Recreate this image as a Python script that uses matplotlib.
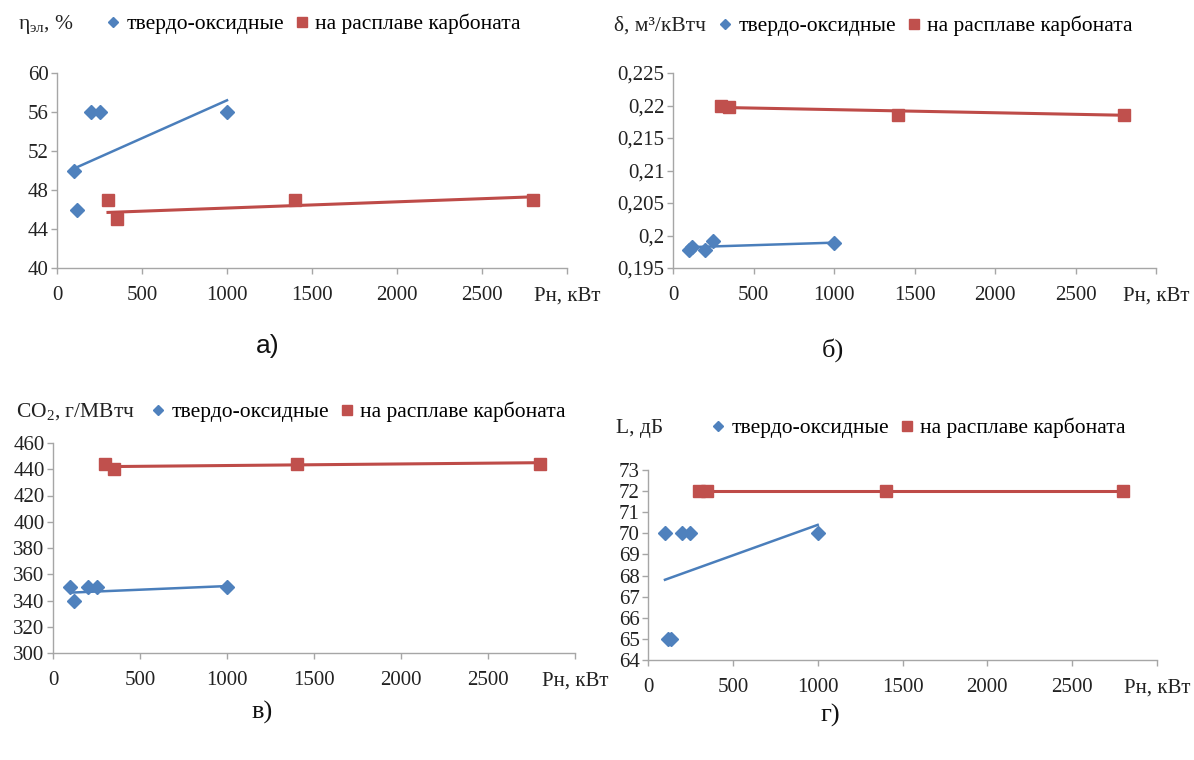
import matplotlib
matplotlib.use('Agg')
import matplotlib.pyplot as plt
from matplotlib.lines import Line2D

plt.rcParams['font.family'] = ['Liberation Serif', 'DejaVu Serif']
plt.rcParams['mathtext.fontset'] = 'custom'
plt.rcParams['mathtext.rm'] = 'Liberation Serif'
plt.rcParams['mathtext.it'] = 'Liberation Serif:italic'

# series names
name_sofc = 'твердо-оксидные'
name_mcfc = 'на расплаве карбоната'

# a) efficiency
a_sofc_x = [100, 120, 200, 250, 1000]
a_sofc_y = [50, 46, 56, 56, 56]
a_mcfc_x = [300, 350, 1400, 2800]
a_mcfc_y = [47, 45, 47, 47]
a_sofc_trend = ([100, 1000], [50.2, 57.2])
a_mcfc_trend = ([300, 2800], [45.7, 47.3])

# б) specific gas consumption
b_sofc_x = [100, 120, 200, 250, 1000]
b_sofc_y = [0.1978, 0.1983, 0.1978, 0.1991, 0.1989]
b_mcfc_x = [300, 350, 1400, 2800]
b_mcfc_y = [0.2200, 0.2197, 0.2185, 0.2185]
b_sofc_trend = ([100, 1000], [0.1982, 0.1989])
b_mcfc_trend = ([300, 2800], [0.2197, 0.2185])

# в) CO2 emissions
c_sofc_x = [100, 120, 200, 250, 1000]
c_sofc_y = [350, 340, 350, 350, 350]
c_mcfc_x = [300, 350, 1400, 2800]
c_mcfc_y = [444, 440, 444, 444]
c_sofc_trend = ([100, 1000], [346, 351])
c_mcfc_trend = ([300, 2800], [442, 445])

# г) noise level
d_sofc_x = [100, 115, 135, 200, 250, 1000]
d_sofc_y = [70, 65, 65, 70, 70, 70]
d_mcfc_x = [300, 350, 1400, 2800]
d_mcfc_y = [72, 72, 72, 72]
d_sofc_trend = ([100, 1000], [67.8, 70.4])
d_mcfc_trend = ([300, 2800], [72, 72])

x_ticks = [0, 500, 1000, 1500, 2000, 2500, 3000]
x_labels = ['0', '500', '1000', '1500', '2000', '2500', 'Рн, кВт']

blue = '#4F81BD'
red = '#C0504D'
axis_col = '#A6A6A6'

fig = plt.figure(figsize=(11.94, 7.6), dpi=100)
W, H = 1194, 760


def px_axes(l, t, r, b):
    return fig.add_axes([l / W, 1 - b / H, (r - l) / W, (b - t) / H])


def draw_panel(ax, sx, sy, mx, my, st, mt, yticks, ylabels, ymin, ymax, ylab,
               ylab_x, leg_x, row_y, caption, cap_x, cap_y, cap_font, ysize=15):
    ax.plot(st[0], st[1], color='#4A7EBB', lw=1.8, zorder=2)
    ax.plot(mt[0], mt[1], color='#BE4B48', lw=2.2, zorder=2)
    ax.plot(sx, sy, ls='none', marker='D', ms=7, color=blue, zorder=3)
    ax.plot(mx, my, ls='none', marker='s', ms=9, color=red, zorder=3)
    ax.set_xlim(0, 3000)
    ax.set_ylim(ymin, ymax)
    ax.set_xticks(x_ticks)
    ax.set_xticklabels(x_labels)
    ax.set_yticks(yticks)
    ax.set_yticklabels(ylabels)
    for s in ['top', 'right']:
        ax.spines[s].set_visible(False)
    for s in ['left', 'bottom']:
        ax.spines[s].set_color(axis_col)
        ax.spines[s].set_linewidth(1.0)
    ax.tick_params(axis='both', colors=axis_col, labelcolor='#222222',
                   length=4, width=1.0)
    ax.tick_params(axis='x', labelsize=15, pad=9)
    ax.tick_params(axis='y', labelsize=ysize, pad=2)
    ax.patch.set_alpha(0)
    fig.text(ylab_x / W, 1 - row_y / H, ylab, fontsize=15.5, va='center',
             ha='left', color='#222222')
    handles = [Line2D([], [], ls='none', marker='D', ms=5, color=blue),
               Line2D([], [], ls='none', marker='s', ms=7.5, color=red)]
    fig.legend(handles, [name_sofc, name_mcfc], loc='center left',
               bbox_to_anchor=(leg_x / W, 1 - row_y / H), ncol=2,
               frameon=False, fontsize=15.5, handlelength=0.5,
               handletextpad=0.35, columnspacing=0.6, borderpad=0,
               borderaxespad=0)
    fig.text(cap_x / W, 1 - cap_y / H, caption, fontsize=19, ha='center',
             va='center', family=cap_font, color='#111111')


ax_a = px_axes(57, 73, 567, 268)
draw_panel(ax_a, a_sofc_x, a_sofc_y, a_mcfc_x, a_mcfc_y, a_sofc_trend, a_mcfc_trend,
           [40, 44, 48, 52, 56, 60], ['40', '44', '48', '52', '56', '60'], 40, 60,
           'η$_{\\mathrm{эл}}$, %', 18, 108, 24, 'а)', 268, 346,
           ['Liberation Sans', 'DejaVu Sans'])

b_ticks = [0.195, 0.2, 0.205, 0.21, 0.215, 0.22, 0.225]
b_labels = ['0,195', '0,2', '0,205', '0,21', '0,215', '0,22', '0,225']
ax_b = px_axes(673, 73, 1156, 268)
draw_panel(ax_b, b_sofc_x, b_sofc_y, b_mcfc_x, b_mcfc_y, b_sofc_trend, b_mcfc_trend,
           b_ticks, b_labels, 0.195, 0.225,
           'δ, м³/кВтч', 614, 720, 26, 'б)', 833, 350,
           ['Liberation Serif', 'DejaVu Serif'])

c_ticks = list(range(300, 461, 20))
ax_c = px_axes(53, 443, 575, 653)
draw_panel(ax_c, c_sofc_x, c_sofc_y, c_mcfc_x, c_mcfc_y, c_sofc_trend, c_mcfc_trend,
           c_ticks, [str(t) for t in c_ticks], 300, 460,
           'CO$_2$, г/МВтч', 16, 153, 412, 'в)', 262, 712,
           ['Liberation Serif', 'DejaVu Serif'])

d_ticks = list(range(64, 74))
ax_d = px_axes(648, 470, 1157, 660)
draw_panel(ax_d, d_sofc_x, d_sofc_y, d_mcfc_x, d_mcfc_y, d_sofc_trend, d_mcfc_trend,
           d_ticks, [str(t) for t in d_ticks], 64, 73,
           'L, дБ', 616, 713, 428, 'г)', 830, 715,
           ['Liberation Serif', 'DejaVu Serif'])

fig.savefig('out.png', dpi=100, facecolor='white')
